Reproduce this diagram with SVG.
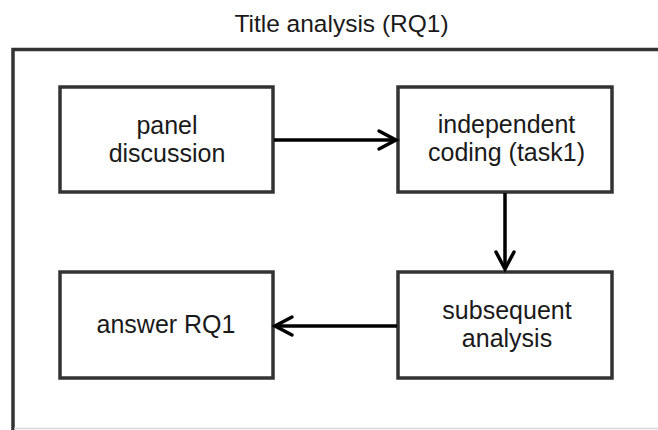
<svg xmlns="http://www.w3.org/2000/svg" width="658" height="430" viewBox="0 0 658 430">
<style>
.box{fill:#fff;stroke:#333;stroke-width:3.5}
.lbl{font-family:"Liberation Sans",Arial,sans-serif;font-size:25px;fill:#1a1a1a;text-anchor:middle}
.edge{fill:none;stroke:#000;stroke-width:3.5}
.head{fill:none;stroke:#000;stroke-width:3.5;stroke-linecap:round;stroke-linejoin:miter}
</style>
<rect width="658" height="430" fill="#fff"/>
<text x="341.5" y="32" font-family="'Liberation Sans',Arial,sans-serif" font-size="24.5" fill="#1a1a1a" text-anchor="middle">Title analysis (RQ1)</text>
<g id="frame">
<path d="M13,430 V49.5 H660" fill="none" stroke="#333" stroke-width="3.5"/>
<line x1="14" y1="428.5" x2="658" y2="428.5" stroke="#d8d8d8" stroke-width="1.5"/>
</g>
<g id="panel">
<rect class="box" x="60" y="87" width="213" height="105"/>
<text class="lbl" x="167" y="134">panel</text>
<text class="lbl" x="167" y="162">discussion</text>
</g>
<g id="independent">
<rect class="box" x="398" y="87" width="214" height="105"/>
<text class="lbl" x="506.5" y="133">independent</text>
<text class="lbl" x="506.5" y="161">coding (task1)</text>
</g>
<g id="subsequent">
<rect class="box" x="398" y="272" width="214" height="106"/>
<text class="lbl" x="507" y="319">subsequent</text>
<text class="lbl" x="507" y="347">analysis</text>
</g>
<g id="answer">
<rect class="box" x="60" y="272" width="213" height="106"/>
<text class="lbl" x="166" y="333">answer RQ1</text>
</g>
<g id="connectors">
<line class="edge" x1="274" y1="140" x2="395" y2="140"/>
<path class="head" d="M379,131 L396,140 L379,149"/>
<line class="edge" x1="505" y1="193" x2="505" y2="269"/>
<path class="head" d="M496,252 L505,269 L514,252"/>
<line class="edge" x1="397" y1="326" x2="276" y2="326"/>
<path class="head" d="M292,317 L275,326 L292,335"/>
</g>
</svg>
